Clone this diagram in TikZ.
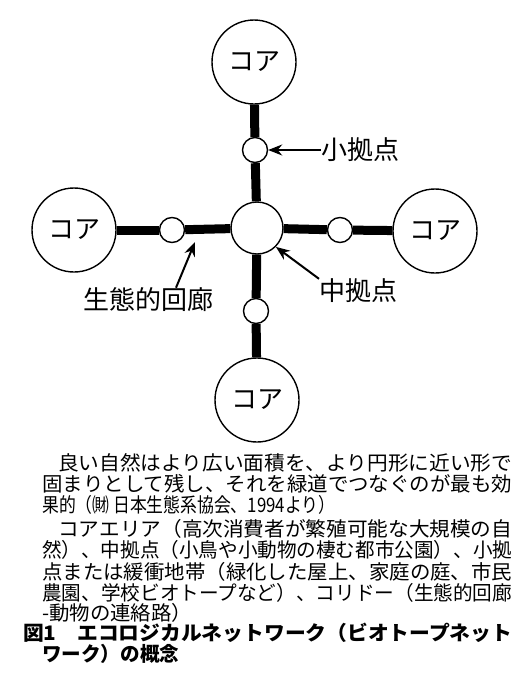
\documentclass[tikz,border=0pt]{standalone}
\usepackage{graphicx}
\usepackage{fontspec}
\setmainfont{Noto Sans CJK JP}
\usetikzlibrary{arrows.meta}
\tikzstyle{core}=[circle,draw=black,line width=1.4pt,fill=white,minimum size=84pt,inner sep=0pt,font=\fontsize{26}{26}\selectfont]
\tikzstyle{hub}=[circle,draw=black,line width=1.4pt,fill=white,minimum size=52pt,inner sep=0pt]
\tikzstyle{spot}=[circle,draw=black,line width=1.4pt,fill=white,minimum size=25pt,inner sep=0pt]
\tikzstyle{corridor}=[draw=black,line width=9pt]
\tikzstyle{pointer}=[draw=black,line width=2pt,-{Stealth[length=14pt,width=11pt]}]
\tikzstyle{tag}=[inner sep=0pt,font=\fontsize{26}{26}\selectfont]
\tikzstyle{capline}=[anchor=west,inner sep=0pt,font=\fontsize{20}{20}\selectfont]
\newcommand{\fitline}[2]{\resizebox{#1}{\height}{#2}}

\begin{document}
\begin{tikzpicture}[x=1pt,y=-1pt]
\useasboundingbox (0,0) rectangle (525,675);
% cores and stepping stones
\node[core] (coreT) at ( 254 , 62 ){コア};
\node[core] (coreL) at ( 74 , 230 ){コア};
\node[core] (coreR) at ( 435 , 231 ){コア};
\node[core] (coreB) at ( 257 , 400 ){コア};
\node[hub] (hub) at ( 257 , 228 ){};
\node[spot] (spotT) at ( 255 , 150 ){};
\node[spot] (spotL) at ( 172 , 230 ){};
\node[spot] (spotR) at ( 340 , 230 ){};
\node[spot] (spotB) at ( 256 , 311 ){};
% corridors
\draw[corridor] (coreT)--(spotT);
\draw[corridor] (spotT)--(hub);
\draw[corridor] (coreL)--(spotL);
\draw[corridor] (spotL)--(hub);
\draw[corridor] (coreR)--(spotR);
\draw[corridor] (spotR)--(hub);
\draw[corridor] (coreB)--(spotB);
\draw[corridor] (spotB)--(hub);
% labels
\node[tag,anchor=west] (tagS) at ( 321 , 150 ){小拠点};
\node[tag,anchor=west] (tagM) at ( 319 , 291 ){中拠点};
\node[tag] (tagC) at ( 148 , 300 ){生態的回廊};
\coordinate (cor) at ( 195 , 242 );
\draw[pointer] (tagS.west)--(spotT.east);
\draw[pointer] (tagM.north west)--(hub.south east);
\draw[pointer] ( tagC.north -| 176 , 0 )--(cor);
% caption
\node[capline] (c1) at ( 58 , 463 ){\fitline{454pt}{良い自然はより広い面積を、より円形に近い形で}};
\node[capline] (c2) at ( 42 , 484 ){\fitline{470pt}{固まりとして残し、それを緑道でつなぐのが最も効}};
\node[capline] (c3) at ( 42 , 505 ){\fitline{293pt}{果的（㈶ 日本生態系協会、1994より）}};
\node[capline] (c4) at ( 58 , 529 ){\fitline{454pt}{コアエリア（高次消費者が繁殖可能な大規模の自}};
\node[capline] (c5) at ( 42 , 550 ){\fitline{470pt}{然）、中拠点（小鳥や小動物の棲む都市公園）、小拠}};
\node[capline] (c6) at ( 42 , 572 ){\fitline{470pt}{点または緩衝地帯（緑化した屋上、家庭の庭、市民}};
\node[capline] (c7) at ( 42 , 593 ){\fitline{470pt}{農園、学校ビオトープなど）、コリドー（生態的回廊}};
\node[capline] (c8) at ( 42 , 613 ){\fitline{150pt}{-動物の連絡路）}};
\node[capline,font=\fontsize{20}{20}\selectfont\bfseries] (c9) at ( 23 , 633 ){\fitline{489pt}{図1　エコロジカルネットワーク（ビオトープネット}};
\node[capline,font=\fontsize{20}{20}\selectfont\bfseries] (c10) at ( 42 , 654 ){\fitline{137pt}{ワーク）の概念}};
\end{tikzpicture}
\end{document}
